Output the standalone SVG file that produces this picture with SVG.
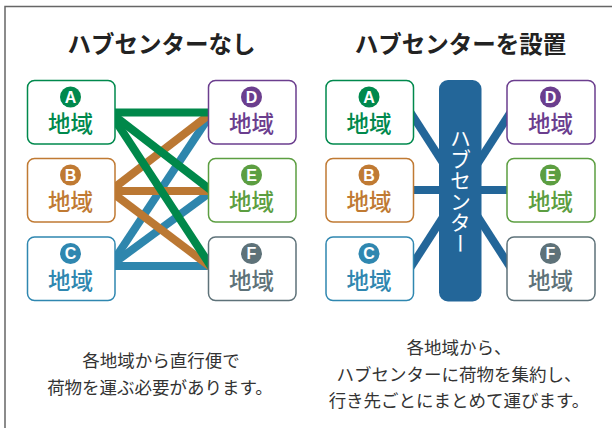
<svg xmlns="http://www.w3.org/2000/svg" width="612" height="428" viewBox="0 0 612 428">
<style>
.title{font-family:"Noto Sans CJK JP","Noto Sans",sans-serif;font-weight:700;font-size:23.5px;fill:#222;text-anchor:middle}
.box{fill:#fff;stroke-width:1.5}
.lbl{font-family:"Noto Sans CJK JP","Noto Sans",sans-serif;font-weight:500;font-size:22.5px;text-anchor:middle}
.let{font-family:"Liberation Sans","Noto Sans",sans-serif;font-weight:700;font-size:16px;fill:#fff;text-anchor:middle}
.cap{font-family:"Noto Sans CJK JP","Noto Sans",sans-serif;font-size:17.5px;fill:#333;text-anchor:middle}
.ln{stroke-width:8;fill:none}
.g{stroke:#00884a}.o{stroke:#bb7833}.b{stroke:#2e86ad}.h{stroke:#236699}
</style>
<rect x="5" y="6.5" width="620" height="440" fill="#fff" stroke="#666" stroke-width="1.5"/>
<text class="title" x="161.5" y="53">ハブセンターなし</text>
<text class="title" x="460.5" y="53">ハブセンターを設置</text>
<g id="connectors">
  <line class="ln b" x1="110" y1="266" x2="212" y2="112.5"/>
  <line class="ln b" x1="110" y1="266" x2="212" y2="191"/>
  <line class="ln b" x1="110" y1="266" x2="212" y2="266"/>
  <line class="ln o" x1="110" y1="191" x2="212" y2="112.5"/>
  <line class="ln o" x1="110" y1="191" x2="212" y2="191"/>
  <line class="ln o" x1="110" y1="191" x2="212" y2="268"/>
  <line class="ln g" x1="110" y1="112.5" x2="212" y2="112.5"/>
  <line class="ln g" x1="110" y1="112.5" x2="212" y2="191"/>
  <line class="ln g" x1="110" y1="112.5" x2="212" y2="268"/>
  <line class="ln h" x1="460.5" y1="190" x2="400" y2="96.2"/>
  <line class="ln h" x1="460.5" y1="190" x2="400" y2="190"/>
  <line class="ln h" x1="460.5" y1="190" x2="400" y2="283.8"/>
  <line class="ln h" x1="460.5" y1="190" x2="521" y2="96.2"/>
  <line class="ln h" x1="460.5" y1="190" x2="521" y2="190"/>
  <line class="ln h" x1="460.5" y1="190" x2="521" y2="283.8"/>
</g>
<g id="hub">
  <rect x="439" y="80" width="42.5" height="221.5" rx="9" fill="#236699"/>
  <text x="460.5" y="191" style="writing-mode:vertical-rl" font-family="'Noto Sans CJK JP',sans-serif" font-size="21" fill="#fff" text-anchor="middle">ハブセンター</text>
</g>
<g id="L-A"><rect class="box" x="27.5" y="80.5" width="87.5" height="63.5" rx="7" stroke="#00894d"/><circle cx="70.5" cy="97" r="10.5" fill="#00894d"/><text class="let" x="70.5" y="102.7">A</text><text class="lbl" x="70.5" y="132" fill="#00894d">地域</text></g>
<g id="L-B"><rect class="box" x="27.5" y="158.5" width="87.5" height="63.5" rx="7" stroke="#c07a33"/><circle cx="70.5" cy="175" r="10.5" fill="#c07a33"/><text class="let" x="70.5" y="180.7">B</text><text class="lbl" x="70.5" y="210" fill="#c07a33">地域</text></g>
<g id="L-C"><rect class="box" x="27.5" y="237" width="87.5" height="63.5" rx="7" stroke="#2f87b0"/><circle cx="70.5" cy="253.5" r="10.5" fill="#2f87b0"/><text class="let" x="70.5" y="259.2">C</text><text class="lbl" x="70.5" y="288.5" fill="#2f87b0">地域</text></g>
<g id="L-D"><rect class="box" x="208.5" y="80.5" width="87.5" height="63.5" rx="7" stroke="#6b3e8e"/><circle cx="251.5" cy="97" r="10.5" fill="#6b3e8e"/><text class="let" x="251.5" y="102.7">D</text><text class="lbl" x="251.5" y="132" fill="#6b3e8e">地域</text></g>
<g id="L-E"><rect class="box" x="208.5" y="158.5" width="87.5" height="63.5" rx="7" stroke="#5c9e41"/><circle cx="251.5" cy="175" r="10.5" fill="#5c9e41"/><text class="let" x="251.5" y="180.7">E</text><text class="lbl" x="251.5" y="210" fill="#5c9e41">地域</text></g>
<g id="L-F"><rect class="box" x="208.5" y="237" width="87.5" height="63.5" rx="7" stroke="#5e7279"/><circle cx="251.5" cy="253.5" r="10.5" fill="#5e7279"/><text class="let" x="251.5" y="259.2">F</text><text class="lbl" x="251.5" y="288.5" fill="#5e7279">地域</text></g>
<g id="R-A"><rect class="box" x="326" y="80.5" width="87.5" height="63.5" rx="7" stroke="#00894d"/><circle cx="369" cy="97" r="10.5" fill="#00894d"/><text class="let" x="369" y="102.7">A</text><text class="lbl" x="369" y="132" fill="#00894d">地域</text></g>
<g id="R-B"><rect class="box" x="326" y="158.5" width="87.5" height="63.5" rx="7" stroke="#c07a33"/><circle cx="369" cy="175" r="10.5" fill="#c07a33"/><text class="let" x="369" y="180.7">B</text><text class="lbl" x="369" y="210" fill="#c07a33">地域</text></g>
<g id="R-C"><rect class="box" x="326" y="237" width="87.5" height="63.5" rx="7" stroke="#2f87b0"/><circle cx="369" cy="253.5" r="10.5" fill="#2f87b0"/><text class="let" x="369" y="259.2">C</text><text class="lbl" x="369" y="288.5" fill="#2f87b0">地域</text></g>
<g id="R-D"><rect class="box" x="507" y="80.5" width="88" height="63.5" rx="7" stroke="#6b3e8e"/><circle cx="550.5" cy="97" r="10.5" fill="#6b3e8e"/><text class="let" x="550.5" y="102.7">D</text><text class="lbl" x="550.5" y="132" fill="#6b3e8e">地域</text></g>
<g id="R-E"><rect class="box" x="507" y="158.5" width="88" height="63.5" rx="7" stroke="#5c9e41"/><circle cx="550.5" cy="175" r="10.5" fill="#5c9e41"/><text class="let" x="550.5" y="180.7">E</text><text class="lbl" x="550.5" y="210" fill="#5c9e41">地域</text></g>
<g id="R-F"><rect class="box" x="507" y="237" width="88" height="63.5" rx="7" stroke="#5e7279"/><circle cx="550.5" cy="253.5" r="10.5" fill="#5e7279"/><text class="let" x="550.5" y="259.2">F</text><text class="lbl" x="550.5" y="288.5" fill="#5e7279">地域</text></g>
<text class="cap" x="161" y="367">各地域から直行便で</text>
<text class="cap" x="160" y="394">荷物を運ぶ必要があります。</text>
<text class="cap" x="459" y="354">各地域から、</text>
<text class="cap" x="459" y="380.5">ハブセンターに荷物を集約し、</text>
<text class="cap" x="459" y="406.5">行き先ごとにまとめて運びます。</text>
</svg>
